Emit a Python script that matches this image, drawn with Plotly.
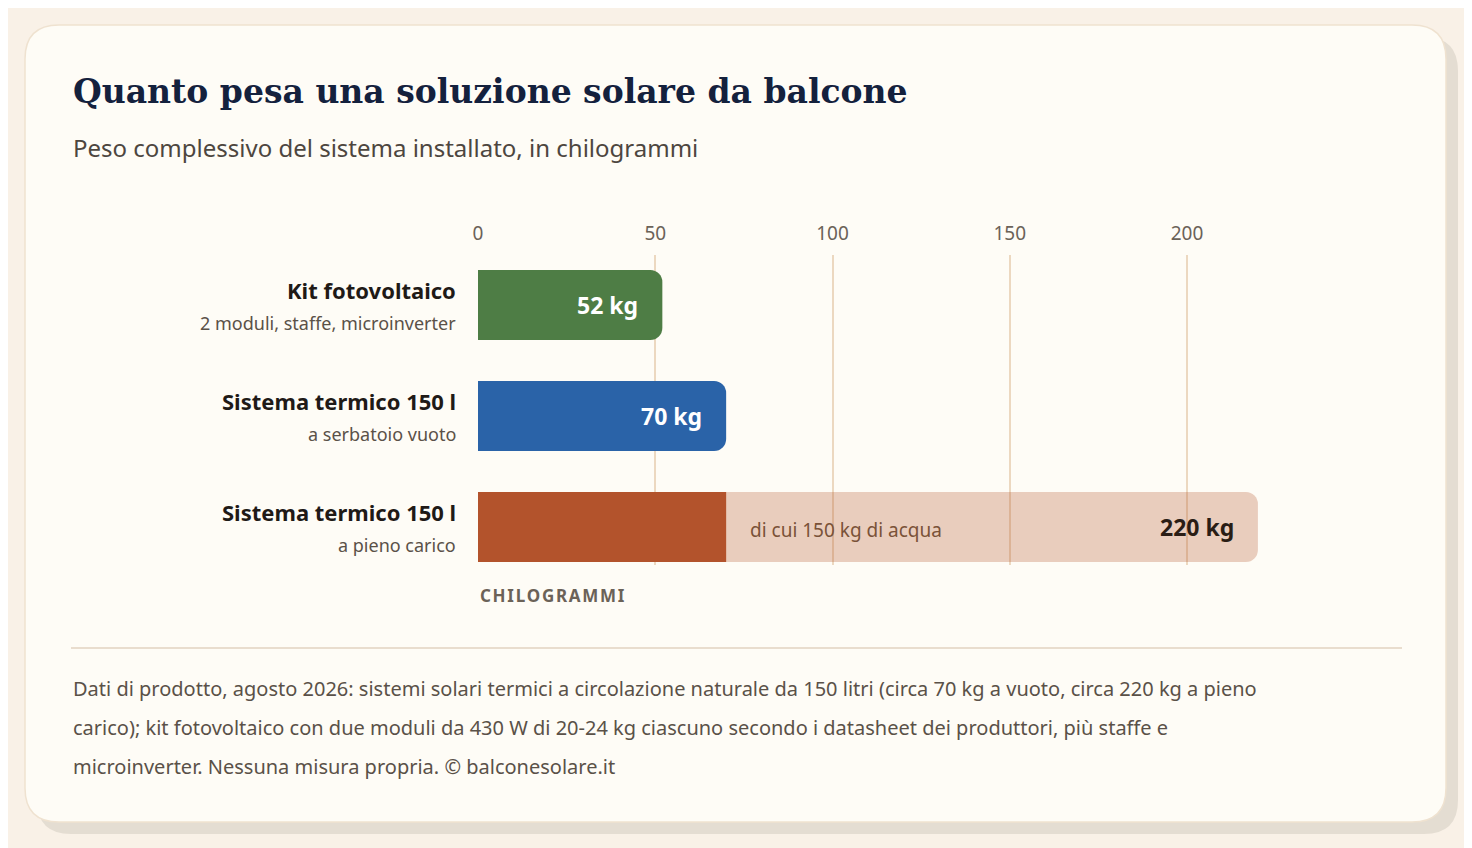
import plotly.graph_objects as go

W, H = 1472, 848
OFF = 8  # page body margin in the browser
ML, MR, MT, MB = 478 - OFF, 70 + OFF, 255 - OFF, 283 + OFF

# data
rows = ["Kit fotovoltaico", "Sistema termico 150 l", "Sistema termico 150 l"]
subs = ["2 moduli, staffe, microinverter", "a serbatoio vuoto", "a pieno carico"]
weights = [52, 70, 70]
full_weight = 220
water = 150
tick_vals = [0, 50, 100, 150, 200]
colors = ["#4e7d45", "#2a63a8", "#b3532c"]

XMAX = (W - ML - MR) / 3.545
YR = [2.342, -0.45]


def px(x):
    return (x - OFF - ML) / (W - ML - MR)


def py(y):
    return 1 - (y - OFF - MT) / (H - MT - MB)


def rounded(x0, y0, x1, y1, r):
    return (f"M{px(x0+r)},{py(y0)} L{px(x1-r)},{py(y0)} Q{px(x1)},{py(y0)} {px(x1)},{py(y0+r)} "
            f"L{px(x1)},{py(y1-r)} Q{px(x1)},{py(y1)} {px(x1-r)},{py(y1)} "
            f"L{px(x0+r)},{py(y1)} Q{px(x0)},{py(y1)} {px(x0)},{py(y1-r)} "
            f"L{px(x0)},{py(y0+r)} Q{px(x0)},{py(y0)} {px(x0+r)},{py(y0)} Z")


FONT = "Noto Sans"
fig = go.Figure()

# full-load background bar
fig.add_trace(go.Bar(x=[full_weight], y=[2], orientation="h", width=0.63,
                     marker=dict(color="rgba(179,83,44,0.28)", line_width=0),
                     hoverinfo="skip", showlegend=False))
fig.add_trace(go.Bar(x=weights, y=[0, 1, 2], orientation="h", width=0.63,
                     marker=dict(color=colors, line_width=0),
                     hoverinfo="skip", showlegend=False))

ann = []
for i in range(3):
    ann.append(dict(x=0, xref="paper", y=i, yref="y", xanchor="right", yanchor="bottom",
                    xshift=-20, yshift=-2, showarrow=False,
                    text=f"<b>{rows[i]}</b>", font=dict(family=FONT, size=22, color="#1f1a17")))
    ann.append(dict(x=0, xref="paper", y=i, yref="y", xanchor="right", yanchor="top",
                    xshift=-20, yshift=-4, showarrow=False,
                    text=subs[i], font=dict(family=FONT, size=18, color="#5a5148")))
for i in range(2):
    ann.append(dict(x=weights[i], y=i, xanchor="right", xshift=-22, showarrow=False,
                    text=f"<b>{weights[i]} kg</b>", font=dict(family=FONT, size=23, color="white")))
ann.append(dict(x=weights[2], y=2, xanchor="left", xshift=22, yshift=-3, showarrow=False,
                text=f"di cui {water} kg di acqua", font=dict(family=FONT, size=19, color="#7a5238")))
ann.append(dict(x=full_weight, y=2, xanchor="right", xshift=-22, showarrow=False,
                text=f"<b>{full_weight} kg</b>", font=dict(family=FONT, size=23, color="#2a1d15")))

ann.append(dict(x=px(71), y=py(92), xref="paper", yref="paper", xanchor="left", yanchor="middle",
                showarrow=False, text="<b>Quanto pesa una soluzione solare da balcone</b>",
                font=dict(family="DejaVu Serif", size=33, color="#14213d")))
ann.append(dict(x=px(71), y=py(147), xref="paper", yref="paper", xanchor="left", yanchor="middle",
                showarrow=False, text="Peso complessivo del sistema installato, in chilogrammi",
                font=dict(family=FONT, size=24, color="#4d463f")))
ann.append(dict(x=0, y=py(595), xref="paper", yref="paper", xanchor="left", yanchor="middle",
                showarrow=False, text="<b>C H I L O G R A M M I</b>".replace(" ", "&#8202;"),
                font=dict(family=FONT, size=17, color="#6b6258")))
foot = ["Dati di prodotto, agosto 2026: sistemi solari termici a circolazione naturale da 150 litri (circa 70 kg a vuoto, circa 220 kg a pieno",
        "carico); kit fotovoltaico con due moduli da 430 W di 20-24 kg ciascuno secondo i datasheet dei produttori, più staffe e",
        "microinverter. Nessuna misura propria. © balconesolare.it"]
for yy, t in zip([688, 727, 766], foot):
    ann.append(dict(x=px(71), y=py(yy), xref="paper", yref="paper", xanchor="left", yanchor="middle",
                    showarrow=False, text=t, font=dict(family=FONT, size=20, color="#5a5148")))

shapes = [
    dict(type="path", path=rounded(37, 37, 1458, 834, 34), xref="paper", yref="paper",
         fillcolor="#e4ddd2", line_width=0, layer="below"),
    dict(type="path", path=rounded(25, 25, 1446, 822, 34), xref="paper", yref="paper",
         fillcolor="#fefcf6", line=dict(color="#efe2d0", width=1.5), layer="below"),
    dict(type="line", x0=px(71), x1=px(1402), y0=py(648), y1=py(648), xref="paper", yref="paper",
         line=dict(color="#e2d3c0", width=1.5)),
]

fig.update_layout(
    width=W, height=H, margin=dict(l=ML, r=MR, t=MT, b=MB),
    paper_bgcolor="#f9f1e7", plot_bgcolor="rgba(0,0,0,0)",
    barmode="overlay", barcornerradius=12,
    annotations=ann, shapes=shapes,
    xaxis=dict(range=[0, XMAX], side="top", tickvals=tick_vals, showgrid=True,
               gridcolor="#ecd8c0", gridwidth=1.5, zeroline=False, showline=False,
               ticks="", ticklabelstandoff=10,
               tickfont=dict(family=FONT, size=19, color="#6b6258")),
    yaxis=dict(range=YR, visible=False),
)

fig.write_html("out.html")
